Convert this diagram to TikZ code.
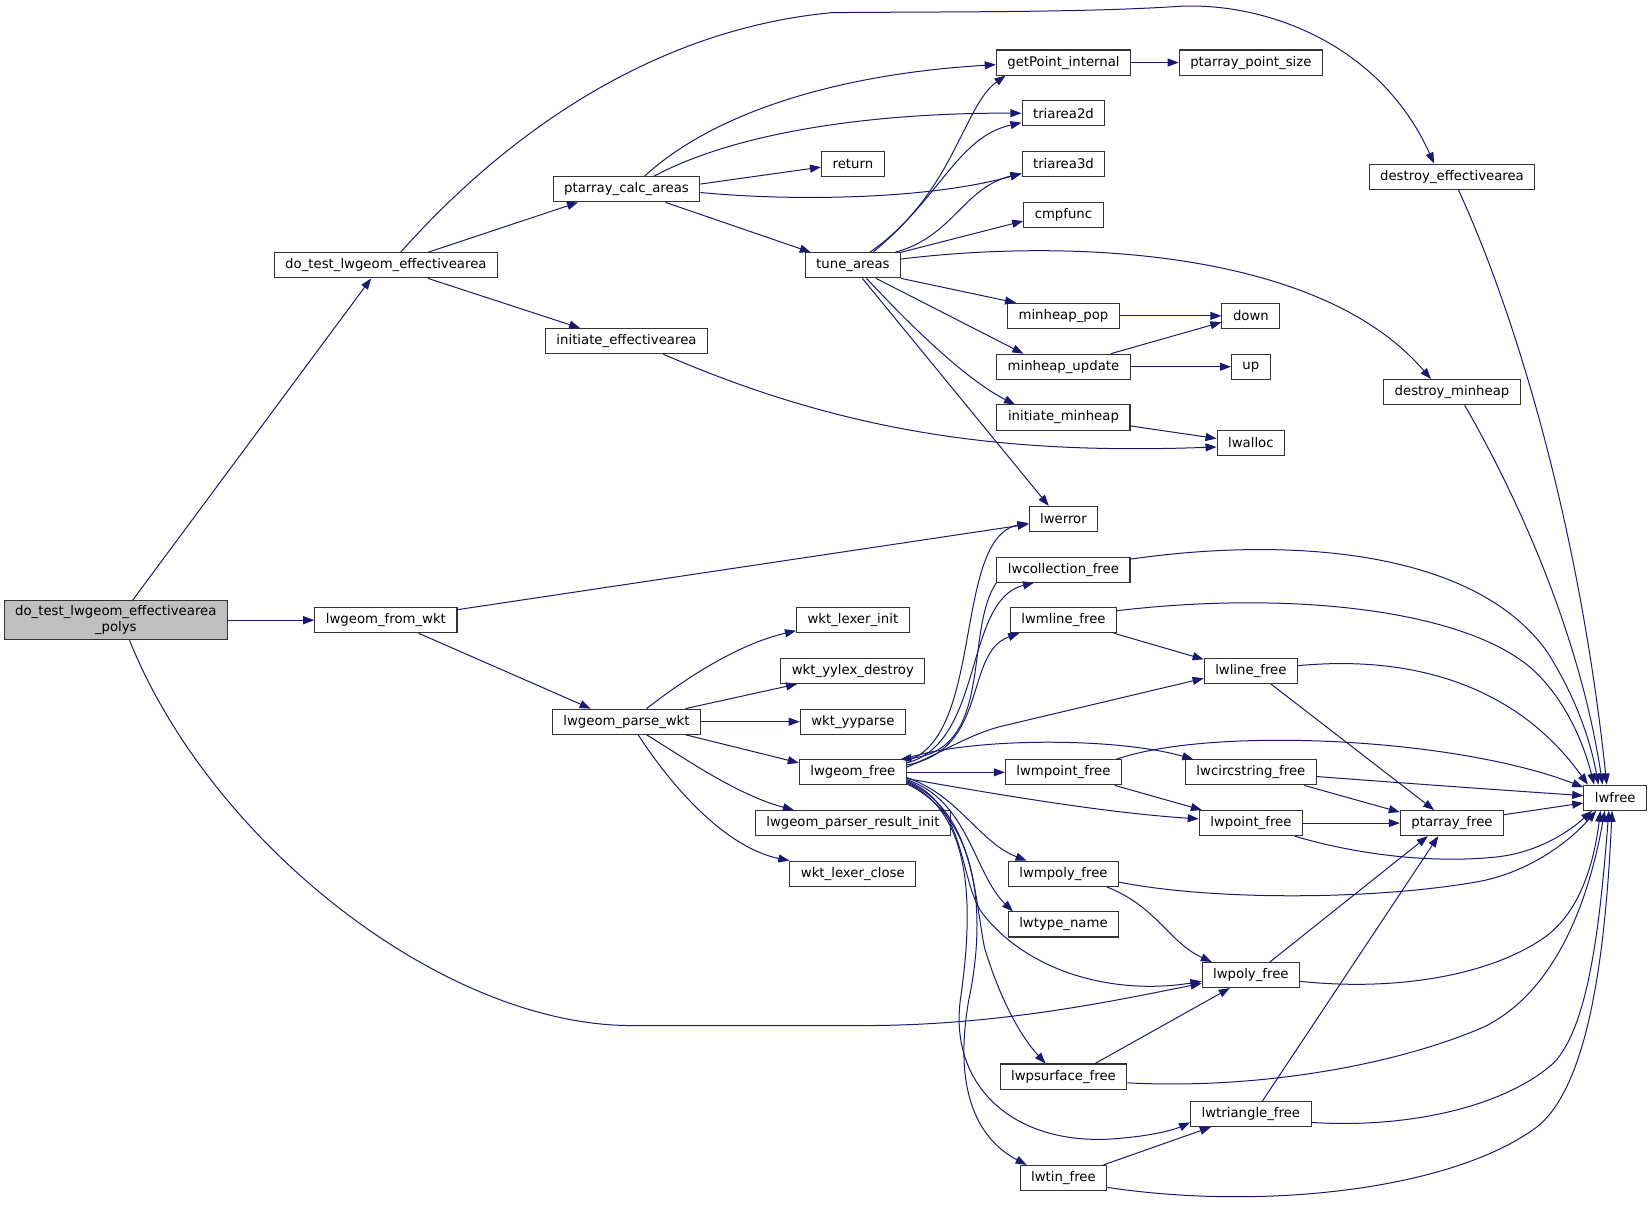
\documentclass[tikz,border=0pt]{standalone}
\usepackage{fontspec}
\setmainfont{DejaVu Sans}
\usetikzlibrary{arrows.meta}
\definecolor{edgecol}{HTML}{191970}
\definecolor{rootfill}{HTML}{BFBFBF}
\begin{document}
\begin{tikzpicture}[x=1pt,y=-1pt,
  fn/.style={draw=black!80, fill=white, line width=1pt, minimum height=23.8pt,
    inner xsep=10.5pt, inner ysep=0pt, font=\fontsize{12.6}{15}\selectfont},
  rootnode/.style={fn, fill=rootfill, minimum height=37pt, align=center},
  e/.style={draw=edgecol, line width=0.95pt, -{Triangle[length=10.5pt,width=7.6pt]}}]
\useasboundingbox (0,0) rectangle (1568,1149.2);

% nodes
\node[rootnode] (root) at (110,589) {do\_test\_lwgeom\_effectivearea\\\_polys};
\node[fn] (dotest) at (366.5,252) {do\_test\_lwgeom\_effectivearea};
\node[fn] (fromwkt) at (366.5,589) {lwgeom\_from\_wkt};
\node[fn] (calc) at (595,179.8) {ptarray\_calc\_areas};
\node[fn] (initea) at (595,324) {initiate\_effectivearea};
\node[fn] (parse) at (595,685.4) {lwgeom\_parse\_wkt};
\node[fn] (tune) at (810,252) {tune\_areas};
\node[fn] (ret) at (810,155.7) {return};
\node[fn] (lexinit) at (810,589) {wkt\_lexer\_init};
\node[fn] (yylex) at (810,637.2) {wkt\_yylex\_destroy};
\node[fn] (yyparse) at (810,685.4) {wkt\_yyparse};
\node[fn] (lwgeomfree) at (810,733.5) {lwgeom\_free};
\node[fn] (resinit) at (810,781.7) {lwgeom\_parser\_result\_init};
\node[fn] (lexclose) at (810,829.8) {wkt\_lexer\_close};
\node[fn] (getpt) at (1010,59.4) {getPoint\_internal};
\node[fn] (tri2) at (1010,107.5) {triarea2d};
\node[fn] (tri3) at (1010,155.7) {triarea3d};
\node[fn] (cmp) at (1010,203.9) {cmpfunc};
\node[fn] (mpop) at (1010,300) {minheap\_pop};
\node[fn] (mupd) at (1010,348.3) {minheap\_update};
\node[fn] (imin) at (1010,396.5) {initiate\_minheap};
\node[fn] (lwerror) at (1010,492.8) {lwerror};
\node[fn] (lwcoll) at (1010,541) {lwcollection\_free};
\node[fn] (lwmline) at (1010,589) {lwmline\_free};
\node[fn] (lwmpoint) at (1010,733.5) {lwmpoint\_free};
\node[fn] (lwmpoly) at (1010,829.8) {lwmpoly\_free};
\node[fn] (lwtype) at (1010,878) {lwtype\_name};
\node[fn] (lwpsurf) at (1010,1022.4) {lwpsurface\_free};
\node[fn] (lwtin) at (1010,1118.7) {lwtin\_free};
\node[fn] (ptsize) at (1188,59.4) {ptarray\_point\_size};
\node[fn] (down) at (1188,300) {down};
\node[fn] (up) at (1188,348.3) {up};
\node[fn] (lwalloc) at (1188,420.5) {lwalloc};
\node[fn] (lwline) at (1188,637.2) {lwline\_free};
\node[fn] (lwcirc) at (1188,733.5) {lwcircstring\_free};
\node[fn] (lwpoint) at (1188,781.7) {lwpoint\_free};
\node[fn] (lwpoly) at (1188,926) {lwpoly\_free};
\node[fn] (lwtri) at (1188,1058) {lwtriangle\_free};
\node[fn] (destea) at (1379,167.7) {destroy\_effectivearea};
\node[fn] (destmin) at (1379,372.4) {destroy\_minheap};
\node[fn] (ptfree) at (1379,781.7) {ptarray\_free};
\node[fn] (lwfree) at (1534,757.6) {lwfree};

% root
\draw[e] ([xshift=16pt]root.north) -- ([xshift=-14pt]dotest.south);
\draw[e] (root.east) -- (fromwkt.west);
\draw[e] ([xshift=13pt]root.south) .. controls (200,800) and (420,974) .. (600,974) -- (820,974) .. controls (950,974) and (1060,950) .. ([yshift=-8pt]lwpoly.west);

% do_test_lwgeom_effectivearea
\draw[e] ([xshift=40pt]dotest.north) -- ([xshift=-46pt]calc.south);
\draw[e] ([xshift=40pt]dotest.south) -- ([xshift=-44pt]initea.north);
\draw[e] ([xshift=14pt]dotest.north) .. controls (460,150) and (600,30) .. (790,12) .. controls (900,11) and (1030,12) .. (1120,6) .. controls (1200,2) and (1310,40) .. ([xshift=-17pt]destea.north);

% ptarray_calc_areas
\draw[e] ([xshift=17pt]calc.north) .. controls (680,105) and (800,70) .. ([yshift=-2pt]getpt.west);
\draw[e] ([xshift=26pt]calc.north) .. controls (700,125) and (830,107) .. (tri2.west);
\draw[e] ([yshift=5pt]calc.east) -- ([yshift=-3pt]ret.west);
\draw[e] ([yshift=-3pt]calc.east) .. controls (750,191) and (880,190) .. ([yshift=-9pt]tri3.west);
\draw[e] ([xshift=37pt]calc.south) -- ([xshift=-40pt]tune.north);

% tune_areas
\draw[e] ([xshift=16pt]tune.north) .. controls (905,185) and (915,100) .. ([xshift=-55pt]getpt.south);
\draw[e] ([xshift=19pt]tune.north) .. controls (895,185) and (910,130) .. ([yshift=-9pt]tri2.west);
\draw[e] ([xshift=40pt]tune.north) .. controls (905,225) and (915,178) .. ([yshift=-9pt]tri3.west);
\draw[e] (tune.north east) -- ([yshift=-6pt]cmp.west);
\draw[e] ([yshift=6pt]tune.east) .. controls (1020,226) and (1255,238) .. ([xshift=-20pt]destmin.north);
\draw[e] (tune.south east) -- ([xshift=-45pt]mpop.north);
\draw[e] ([xshift=22pt]tune.south) -- ([xshift=-38pt]mupd.north);
\draw[e] ([xshift=13pt]tune.south) .. controls (870,315) and (920,362) .. ([xshift=-46pt]imin.north);
\draw[e] ([xshift=9pt]tune.south) -- ([xshift=-14pt]lwerror.north);
\draw[e] (mpop.east) -- (down.west);
\draw[e] (mupd.east) -- (up.west);
\draw[e] ([xshift=45pt]mupd.north) -- ([yshift=-6pt]down.west);
\draw[e] ([yshift=-8pt]imin.east) -- ([yshift=4pt]lwalloc.west);
\draw[e] ([xshift=35pt]initea.south) .. controls (800,410) and (950,432) .. ([yshift=-4pt]lwalloc.west);
\draw[e] (getpt.east) -- (ptsize.west);
\draw[e] ([xshift=6pt]destea.south) .. controls (1440,300) and (1500,500) .. ([xshift=-8pt]lwfree.north);
\draw[e] ([xshift=12pt]destmin.south) .. controls (1440,470) and (1500,600) .. ([xshift=-12pt]lwfree.north);

% lwgeom_from_wkt
\draw[e] ([yshift=10pt]fromwkt.east) -- ([yshift=-5pt]lwerror.west);
\draw[e] ([xshift=31pt]fromwkt.south) -- ([xshift=-34pt]parse.north);

% lwgeom_parse_wkt
\draw[e] ([xshift=19pt]parse.north) .. controls (650,645) and (700,612) .. ([yshift=-10pt]lexinit.west);
\draw[e] ([xshift=56pt]parse.north) -- ([xshift=-53pt]yylex.south);
\draw[e] (parse.east) -- (yyparse.west);
\draw[e] ([xshift=56pt]parse.south) -- ([yshift=9pt]lwgeomfree.west);
\draw[e] ([xshift=19pt]parse.south) .. controls (650,720) and (700,755) .. ([xshift=-56pt]resinit.north);
\draw[e] ([xshift=11pt]parse.south) .. controls (640,750) and (690,805) .. (lexclose.north west);

% lwgeom_free
\draw[e] ([yshift=11pt]lwgeomfree.east) .. controls (935,700) and (905,510) .. ([yshift=-4pt]lwerror.west);
\draw[e] ([yshift=9pt]lwgeomfree.east) .. controls (935,705) and (915,570) .. ([xshift=-28pt]lwcoll.south);
\draw[e] (lwcoll.south west) .. controls (915,600) and (945,712) .. ([xshift=45pt]lwgeomfree.north);
\draw[e] ([yshift=7pt]lwgeomfree.east) .. controls (940,712) and (915,620) .. ([xshift=-42pt]lwmline.south);
\draw[e] ([yshift=5pt]lwgeomfree.east) .. controls (900,712) and (920,698) .. (950,690) -- ([yshift=-7pt]lwline.west);
\draw[e] ([xshift=48pt]lwgeomfree.north) .. controls (920,700) and (1060,700) .. ([xshift=8pt]lwcirc.north west);
\draw[e] (lwgeomfree.east) -- (lwmpoint.west);
\draw[e] ([yshift=-6pt]lwgeomfree.east) .. controls (950,755) and (1050,772) .. ([yshift=4pt]lwpoint.west);
\draw[e] ([yshift=-5pt]lwgeomfree.east) .. controls (910,755) and (930,800) .. ([xshift=-35pt]lwmpoly.north);
\draw[e] ([yshift=-7pt]lwgeomfree.east) .. controls (920,760) and (925,830) .. ([xshift=-48pt]lwtype.north);
\draw[e] ([yshift=-8pt]lwgeomfree.east) .. controls (920,765) and (910,840) .. (935,870) .. controls (980,925) and (1060,945) .. ([yshift=-6pt]lwpoly.west);
\draw[e] ([yshift=-9pt]lwgeomfree.east) .. controls (925,770) and (925,850) .. (935,900) .. controls (950,950) and (970,985) .. ([xshift=-17pt]lwpsurf.north);
\draw[e] ([yshift=-10pt]lwgeomfree.east) .. controls (930,775) and (922,880) .. (912,950) .. controls (902,1030) and (960,1085) .. (1050,1082) .. controls (1090,1080) and (1115,1073) .. ([yshift=-8pt]lwtri.west);
\draw[e] ([yshift=-11pt]lwgeomfree.east) .. controls (935,780) and (935,880) .. (920,950) .. controls (906,1030) and (925,1080) .. ([xshift=-35pt]lwtin.north);

% free functions
\draw[e] ([yshift=10pt]lwcoll.east) .. controls (1220,510) and (1400,520) .. (1470,620) .. controls (1495,660) and (1510,700) .. ([xshift=-16pt]lwfree.north);
\draw[e] ([yshift=9pt]lwmline.east) .. controls (1230,560) and (1400,580) .. (1460,640) .. controls (1490,670) and (1505,710) .. ([xshift=-20pt]lwfree.north);
\draw[e] ([xshift=-3pt]lwmline.south east) -- ([yshift=11pt]lwline.west);
\draw[e] ([yshift=5pt]lwline.east) .. controls (1340,622) and (1440,650) .. ([xshift=-26pt]lwfree.north);
\draw[e] ([xshift=19pt]lwline.south) -- ([xshift=-17pt]ptfree.north);
\draw[e] ([xshift=50pt]lwmpoint.north) .. controls (1150,690) and (1380,700) .. ([yshift=10pt]lwfree.west);
\draw[e] ([xshift=-7pt]lwmpoint.south east) -- ([xshift=3pt]lwpoint.north west);
\draw[e] ([yshift=-4pt]lwcirc.east) .. controls (1350,745) and (1450,752) .. ([yshift=2pt]lwfree.west);
\draw[e] ([xshift=-12pt]lwcirc.south east) -- ([yshift=-2pt]ptfree.north west);
\draw[e] (lwpoint.east) -- (ptfree.west);
\draw[e] ([xshift=-8pt]lwpoint.south east) .. controls (1290,812) and (1360,820) .. (1420,814) .. controls (1460,810) and (1490,790) .. ([xshift=-22pt]lwfree.south);
\draw[e] ([yshift=8pt]ptfree.east) -- ([yshift=-5pt]lwfree.west);
\draw[e] ([yshift=-8pt]lwmpoly.east) .. controls (1150,855) and (1300,855) .. (1400,838) .. controls (1450,830) and (1490,800) .. ([xshift=-18pt]lwfree.south);
\draw[e] ([xshift=41pt]lwmpoly.south) .. controls (1100,862) and (1110,895) .. ([xshift=-37pt]lwpoly.north);
\draw[e] ([xshift=18pt]lwpoly.north) -- ([xshift=-23pt]ptfree.south);
\draw[e] ([yshift=-6pt]lwpoly.east) .. controls (1330,942) and (1420,925) .. (1470,888) .. controls (1505,860) and (1515,810) .. ([xshift=-14pt]lwfree.south);
\draw[e] ([xshift=30pt]lwpsurf.north) -- ([xshift=-20pt]lwpoly.south);
\draw[e] ([yshift=-6pt]lwpsurf.east) .. controls (1200,1035) and (1330,1010) .. (1410,975) .. controls (1480,940) and (1510,850) .. ([xshift=-10pt]lwfree.south);
\draw[e] ([xshift=11pt]lwtri.north) -- ([xshift=-13pt]ptfree.south);
\draw[e] ([yshift=-8pt]lwtri.east) .. controls (1340,1072) and (1430,1050) .. (1475,1010) .. controls (1510,975) and (1520,870) .. ([xshift=-6pt]lwfree.south);
\draw[e] ([xshift=38pt]lwtin.north) -- ([xshift=-38pt]lwtri.south);
\draw[e] ([yshift=-9pt]lwtin.east) .. controls (1200,1150) and (1380,1130) .. (1460,1070) .. controls (1510,1030) and (1525,900) .. ([xshift=-3pt]lwfree.south);
\end{tikzpicture}
\end{document}
